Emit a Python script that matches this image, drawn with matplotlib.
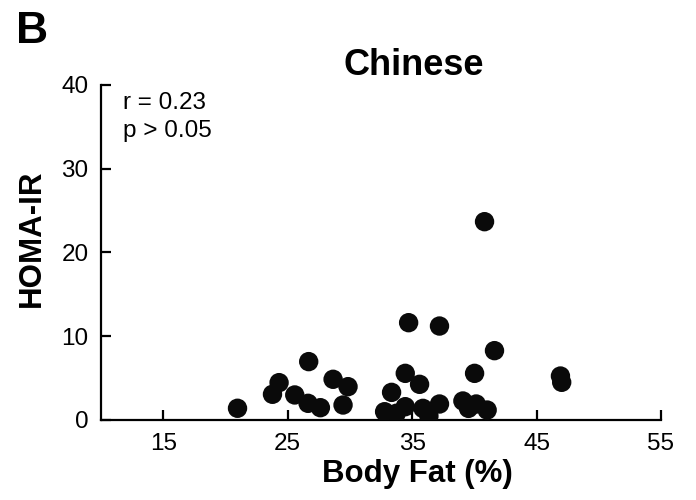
import numpy as np
import matplotlib.pyplot as plt

plt.rcParams['font.family'] = ['Liberation Sans', 'DejaVu Sans']

# 体脂肪率 (%) と HOMA-IR
body_fat = [20.97, 23.78, 24.31, 25.57, 26.69, 26.64, 27.63, 28.65, 29.85, 29.45,
            32.79, 33.35, 33.73, 34.45, 34.45, 34.72, 35.6, 35.87, 36.35, 37.2,
            37.2, 39.08, 39.53, 40.02, 40.15, 41.03, 40.82, 41.62, 46.92, 47.02]
homa_ir = [1.40, 3.07, 4.46, 2.99, 6.97, 1.99, 1.47, 4.86, 3.98, 1.79,
           0.99, 3.30, 0.80, 1.59, 5.57, 11.62, 4.26, 1.39, 0.48, 1.91,
           11.22, 2.27, 1.39, 5.57, 1.91, 1.19, 23.68, 8.28, 5.25, 4.50]

x_ticks = [15, 25, 35, 45, 55]
y_ticks = [0, 10, 20, 30, 40]

W, H = 696, 500
fig = plt.figure(figsize=(W / 100, H / 100), dpi=100)
ax = fig.add_axes([101 / W, 80 / H, 560 / W, 335 / H])

ax.scatter(body_fat, homa_ir, s=195, color='#0a0a0a', edgecolors='none', zorder=3)

ax.set_xlim(10, 55)
ax.set_ylim(0, 40)
ax.set_xticks(x_ticks)
ax.set_yticks(y_ticks)
ax.tick_params(direction='in', length=7, width=1.6, labelsize=17.5, pad=9)
for side in ['top', 'right']:
    ax.spines[side].set_visible(False)
for side in ['left', 'bottom']:
    ax.spines[side].set_linewidth(1.6)

# 軸ラベル・タイトル (図座標で配置)
fig.text(417 / W, 1 - 482 / H, 'Body Fat (%)', fontsize=22.5, fontweight='bold',
         ha='center', va='baseline')
fig.text(32 / W, 1 - 238 / H, 'HOMA-IR', fontsize=22.5, fontweight='bold',
         ha='center', va='center', rotation=90)
fig.text(414 / W, 1 - 75 / H, 'Chinese', fontsize=26, fontweight='bold',
         ha='center', va='baseline')
fig.text(16 / W, 1 - 43 / H, 'B', fontsize=32, fontweight='bold',
         ha='left', va='baseline')

fig.text(123 / W, 1 - 109 / H, 'r = 0.23', fontsize=17.5, ha='left', va='baseline')
fig.text(123 / W, 1 - 137 / H, 'p > 0.05', fontsize=17.5, ha='left', va='baseline')

fig.savefig('out.png', dpi=100)
